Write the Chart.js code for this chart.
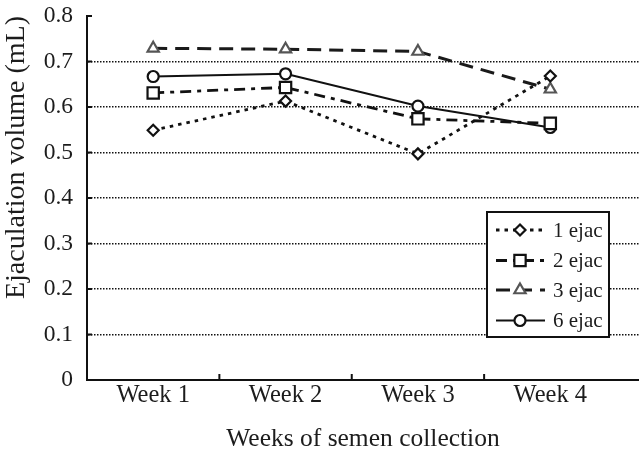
<!DOCTYPE html>
<html><head><meta charset="utf-8">
<script src="https://cdn.jsdelivr.net/npm/chart.js@4/dist/chart.umd.min.js"></script>
<style>html,body{margin:0;padding:0;background:#fff;}#wrap{width:639px;height:455px;}</style>
</head><body><div id="wrap"><canvas id="c" width="639" height="455"></canvas></div>
<script>
const categories = ['Week 1', 'Week 2', 'Week 3', 'Week 4'];
const seriesNames = ['1 ejac', '2 ejac', '3 ejac', '6 ejac'];
const ejac1 = [0.549, 0.613, 0.497, 0.668];
const ejac2 = [0.631, 0.643, 0.574, 0.564];
const ejac3 = [0.729, 0.727, 0.722, 0.639];
const ejac6 = [0.667, 0.673, 0.602, 0.555];
const yTickValues = [0, 0.1, 0.2, 0.3, 0.4, 0.5, 0.6, 0.7, 0.8];
const xDividers = [1.5, 2.5, 3.5];

const FONT = "'Liberation Serif', 'Times New Roman', serif";
const TXT = '#1c1c1c';

function pts(arr) { return arr.map((v, i) => ({ x: i + 1, y: v })); }

const styles = [
  { pointStyle: 'rectRot', radius: 5.5, dash: [3.5, 5], color: '#111', pcolor: '#111', lw: 2.8 },
  { pointStyle: 'rect', radius: 8, dash: [11, 6, 4, 6], color: '#111', pcolor: '#111', lw: 2.8 },
  { pointStyle: 'triangle', radius: 6.5, dash: [14, 8], color: '#1a1a1a', pcolor: '#555', lw: 3 },
  { pointStyle: 'circle', radius: 5.5, dash: [], color: '#111', pcolor: '#111', lw: 2 }
];
const seriesData = [ejac1, ejac2, ejac3, ejac6];

const datasets = seriesData.map((arr, i) => ({
  label: seriesNames[i],
  data: pts(arr),
  borderColor: styles[i].color,
  borderWidth: styles[i].lw,
  borderDash: styles[i].dash,
  pointStyle: styles[i].pointStyle,
  pointRadius: styles[i].radius,
  pointBorderWidth: 2.2,
  pointBorderColor: styles[i].pcolor,
  pointBackgroundColor: '#fff',
  tension: 0,
  fill: false
}));

const extras = {
  id: 'extras',
  afterDraw(chart) {
    const ctx = chart.ctx;
    const xs = chart.scales.x, ys = chart.scales.y;
    ctx.save();
    ctx.strokeStyle = '#111';
    ctx.lineWidth = 2;
    ctx.setLineDash([]);
    yTickValues.forEach(v => {
      if (v === 0) return;
      const y = ys.getPixelForValue(v);
      ctx.beginPath(); ctx.moveTo(xs.left, y); ctx.lineTo(xs.left + 5, y); ctx.stroke();
    });
    xDividers.forEach(v => {
      const x = xs.getPixelForValue(v);
      ctx.beginPath(); ctx.moveTo(x, ys.bottom); ctx.lineTo(x, ys.bottom - 6); ctx.stroke();
    });
    // legend
    const bx = 487, by = 212, bw = 122, bh = 125;
    ctx.fillStyle = '#fff';
    ctx.fillRect(bx, by, bw, bh);
    ctx.lineWidth = 2;
    ctx.strokeStyle = '#111';
    ctx.strokeRect(bx, by, bw, bh);
    const rows = [230, 260.5, 290, 320.5];
    chart.data.datasets.forEach((ds, i) => {
      const y = rows[i];
      ctx.save();
      ctx.strokeStyle = ds.borderColor;
      ctx.lineWidth = ds.borderWidth;
      ctx.setLineDash(ds.borderDash);
      ctx.beginPath(); ctx.moveTo(496, y); ctx.lineTo(545, y); ctx.stroke();
      ctx.setLineDash([]);
      ctx.fillStyle = '#fff';
      ctx.strokeStyle = ds.pointBorderColor;
      ctx.lineWidth = 2.2;
      Chart.helpers.drawPoint(ctx, { pointStyle: ds.pointStyle, radius: ds.pointRadius, borderWidth: 2.2, rotation: 0 }, 520, y);
      ctx.restore();
      ctx.fillStyle = TXT;
      ctx.font = '21px ' + FONT;
      ctx.textBaseline = 'middle';
      ctx.textAlign = 'left';
      ctx.fillText(ds.label, 553, y + 1);
    });
    ctx.restore();
  }
};

new Chart(document.getElementById('c'), {
  type: 'line',
  data: { datasets },
  options: {
    responsive: false,
    animation: false,
    devicePixelRatio: 1,
    layout: { autoPadding: false, padding: { top: 16, right: 0, left: 0, bottom: 0 } },
    plugins: { legend: { display: false }, tooltip: { enabled: false } },
    scales: {
      x: {
        type: 'linear',
        min: 0.5,
        max: 4.67,
        afterBuildTicks(scale) { scale.ticks = categories.map((c, i) => ({ value: i + 1 })); },
        afterFit(scale) { scale.height = 75; scale.paddingLeft = 0; scale.paddingRight = 0; },
        ticks: {
          autoSkip: false,
          maxRotation: 0,
          padding: 1,
          color: TXT,
          font: { family: FONT, size: 24.5 },
          callback: (v) => categories[Math.round(v) - 1] || ''
        },
        grid: { display: false, drawTicks: false },
        border: { display: true, color: '#111', width: 2 },
        title: { display: true, text: 'Weeks of semen collection', color: TXT, font: { family: FONT, size: 25.5 }, padding: { top: 0, bottom: 0 } }
      },
      y: {
        min: 0,
        max: 0.8,
        afterBuildTicks(scale) { scale.ticks = yTickValues.map(v => ({ value: v })); },
        afterFit(scale) { scale.width = 87; scale.paddingTop = 0; scale.paddingBottom = 0; },
        ticks: {
          padding: 14,
          color: TXT,
          font: { family: FONT, size: 23.5 },
          callback: (v) => v === 0 ? '0' : v.toFixed(1)
        },
        grid: {
          drawTicks: false,
          color: (c) => (c.tick && (c.tick.value === 0 || c.tick.value === 0.8)) ? 'rgba(0,0,0,0)' : '#111',
          lineWidth: 1.5
        },
        border: { display: true, color: '#111', width: 2, dash: [1.5, 1.5] },
        title: { display: true, align: 'end', text: 'Ejaculation volume (mL)', color: TXT, font: { family: FONT, size: 28 }, padding: { top: 0, bottom: 0 } }
      }
    }
  },
  plugins: [extras]
});
</script>
</body></html>
